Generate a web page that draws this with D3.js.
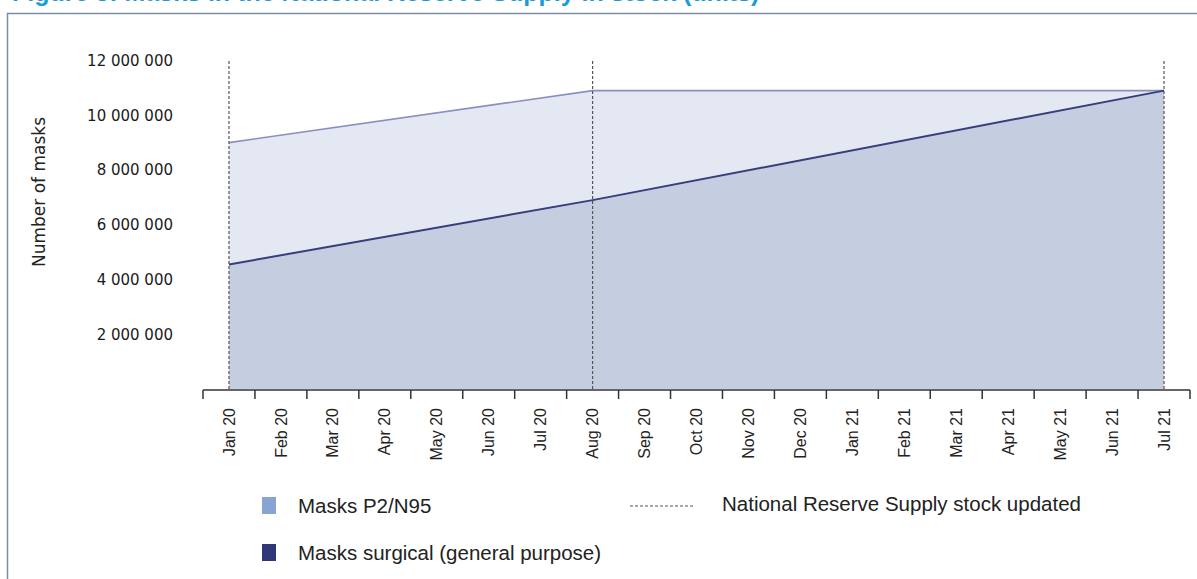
<!DOCTYPE html>
<html>
<head>
<meta charset="utf-8">
<script src="https://cdn.jsdelivr.net/npm/d3@7"></script>
<style>
  html, body { margin: 0; padding: 0; background: #fff; }
  svg { display: block; }
</style>
</head>
<body>
<svg id="chart" width="1197" height="579"></svg>
<script>
const months = ["Jan 20","Feb 20","Mar 20","Apr 20","May 20","Jun 20","Jul 20","Aug 20","Sep 20","Oct 20","Nov 20","Dec 20","Jan 21","Feb 21","Mar 21","Apr 21","May 21","Jun 21","Jul 21"];
const updateMonths = ["Jan 20","Aug 20","Jul 21"];
const p2Values = [9000000, 10900000, 10900000];
const surgicalValues = [4550000, 6900000, 10900000];
const yTicks = [2000000, 4000000, 6000000, 8000000, 10000000, 12000000];
const seriesNames = ["Masks P2/N95", "Masks surgical (general purpose)"];
const updateLabel = "National Reserve Supply stock updated";
const yTitle = "Number of masks";
const titleText = "Figure 3: Masks in the National Reserve Supply in stock (units)";

const svg = d3.select("#chart");

// title (cut off at top, as in the reference) and frame
svg.append("text").attr("x", 12).attr("y", 1)
  .attr("font-family", "Liberation Sans, Arial, sans-serif")
  .attr("font-size", 25).attr("font-weight", "bold").attr("fill", "#1b9bd7")
  .text(titleText);
svg.append("rect").attr("x", 7.5).attr("y", 13.5).attr("width", 1300).attr("height", 700)
  .attr("fill", "none").attr("stroke", "#7b8ea8").attr("stroke-width", 1.5);

const x = d3.scaleBand().domain(months).range([203, 1190]);
const cx = m => x(m) + x.bandwidth() / 2;
const y = d3.scaleLinear().domain([0, 12000000]).range([389, 60.5]);

const p2Data = updateMonths.map((m, i) => ({m, v: p2Values[i]}));
const sData = updateMonths.map((m, i) => ({m, v: surgicalValues[i]}));

const area = d3.area().x(d => cx(d.m)).y0(y(0)).y1(d => y(d.v));
const line = d3.line().x(d => cx(d.m)).y(d => y(d.v));

svg.append("path").datum(p2Data).attr("d", area).attr("fill", "#e4e8f3");
svg.append("path").datum(sData).attr("d", area).attr("fill", "#c5cde1");
svg.append("path").datum(p2Data).attr("d", line).attr("fill", "none")
  .attr("stroke", "#8a8ec3").attr("stroke-width", 1.6);
svg.append("path").datum(sData).attr("d", line).attr("fill", "none")
  .attr("stroke", "#373d7d").attr("stroke-width", 2);

// update dashed lines
svg.append("g").selectAll("line").data(updateMonths).join("line")
  .attr("x1", d => cx(d)).attr("x2", d => cx(d))
  .attr("y1", 61).attr("y2", y(0))
  .attr("stroke", "#555").attr("stroke-width", 1.2).attr("stroke-dasharray", "3,2");

// x axis
const xAxis = d3.axisBottom(x).tickSize(0).tickPadding(0);
const gx = svg.append("g").attr("transform", `translate(0,${y(0) + 1})`).call(xAxis);
gx.select(".domain").remove();
gx.selectAll(".tick text")
  .attr("transform", "rotate(-90)")
  .attr("text-anchor", "end")
  .attr("x", -18).attr("y", 0).attr("dy", "0.35em")
  .attr("font-family", "Liberation Sans, Arial, sans-serif")
  .attr("font-size", 16).attr("fill", "#222");
const bounds = months.map(m => x(m)).concat([x.range()[1]]);
const axisG = svg.append("g").attr("transform", `translate(0,${y(0) + 1})`);
axisG.append("line").attr("x1", x.range()[0]).attr("x2", x.range()[1])
  .attr("stroke", "#333").attr("stroke-width", 1.5);
axisG.selectAll("line.tk").data(bounds).join("line").attr("class", "tk")
  .attr("x1", d => d).attr("x2", d => d).attr("y1", 0).attr("y2", 9)
  .attr("stroke", "#333").attr("stroke-width", 1.5);

// y labels
const yAxis = d3.axisLeft(y).tickValues(yTicks).tickSize(0).tickPadding(0)
  .tickFormat(d => d3.format(",")(d).replace(/,/g, " "));
const gy = svg.append("g").attr("transform", "translate(173,0)").call(yAxis);
gy.select(".domain").remove();
gy.selectAll(".tick text")
  .attr("font-family", "DejaVu Sans, sans-serif").attr("font-size", 15).attr("fill", "#1a1a1a");

svg.append("text")
  .attr("transform", "translate(45,192) rotate(-90)")
  .attr("text-anchor", "middle")
  .attr("font-family", "DejaVu Sans, sans-serif").attr("font-size", 17).attr("fill", "#222")
  .text(yTitle);

// legend
const legFont = "Liberation Sans, Arial, sans-serif";
const swColors = ["#88a4d2", "#2e3878"];
const legY = [506, 553];
seriesNames.forEach((n, i) => {
  svg.append("rect").attr("x", 262).attr("y", legY[i] - 9).attr("width", 14).attr("height", 17)
    .attr("fill", swColors[i]);
  svg.append("text").attr("x", 298).attr("y", legY[i]).attr("dy", "0.35em")
    .attr("font-family", legFont).attr("font-size", 20.5).attr("fill", "#222").text(n);
});
svg.append("line").attr("x1", 630).attr("x2", 695).attr("y1", 506).attr("y2", 506)
  .attr("stroke", "#555").attr("stroke-width", 1.2).attr("stroke-dasharray", "3,2");
svg.append("text").attr("x", 722).attr("y", 504).attr("dy", "0.35em")
  .attr("font-family", legFont).attr("font-size", 20.5).attr("fill", "#222").text(updateLabel);
</script>
</body>
</html>
